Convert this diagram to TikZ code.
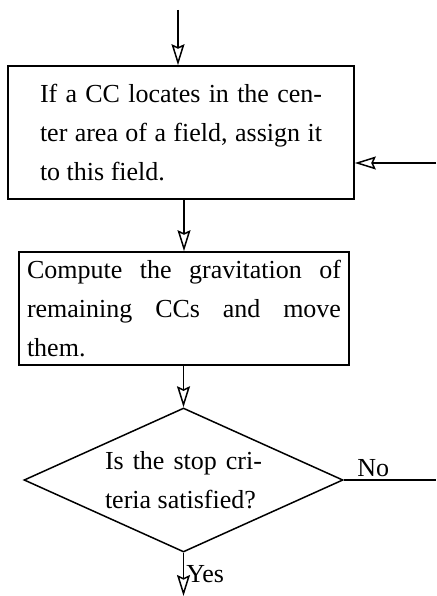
\documentclass[tikz,border=0pt]{standalone}
\usepackage{fontspec}
\setmainfont{Liberation Serif}
\usepackage{tikz}
\usetikzlibrary{positioning,arrows.meta,shapes.geometric}
\tolerance=10000
\hbadness=10000

\begin{document}
\begin{tikzpicture}[x=1pt,y=-1pt,>={Stealth[open,length=21pt,width=13pt,inset=3pt]},line width=1.5pt,
  every node/.style={font=\fontsize{26}{39}\selectfont},
  stepbox/.style={draw,rectangle,align=justify,inner ysep=0pt,line width=1.7pt},
  decision/.style={draw,diamond,align=justify,inner sep=0pt}]
\useasboundingbox (0,0) rectangle (436,596);
\node[stepbox,text width=282pt,minimum width=346pt,minimum height=133pt] (assign) at (181,132.5)
  {If a CC locates in the cen-\break ter area of a field, assign it\break to this field.};
\node[stepbox,text width=314pt,inner xsep=8pt,minimum height=113pt] (move) at (184,308.5)
  {Compute the gravitation of\break remaining CCs and move\break them.};
\node[decision,text width=157pt,aspect=2.215,minimum width=319pt,minimum height=144pt] (stop) at (183.5,480)
  {Is the stop cri-\break teria satisfied?};
% connectors
\coordinate (entry) at (178,10);
\coordinate (loop) at (436,163);
\coordinate (noend) at (436,480);
\coordinate (exit) at (183.5,596);
\draw[->] (entry) -- (entry |- assign.north);
\draw[->] (assign.south -| move.north) -- (move.north);
\draw[->] (move.south -| stop.north) -- (stop.north);
\draw (stop.east) -- (noend) node[pos=.32,above,inner sep=3pt] {No};
\draw[->] (loop) -- (loop -| assign.east);
\draw[->] (stop.south) -- (exit) node[midway,right,inner sep=2pt] {Yes};
\end{tikzpicture}
\end{document}
